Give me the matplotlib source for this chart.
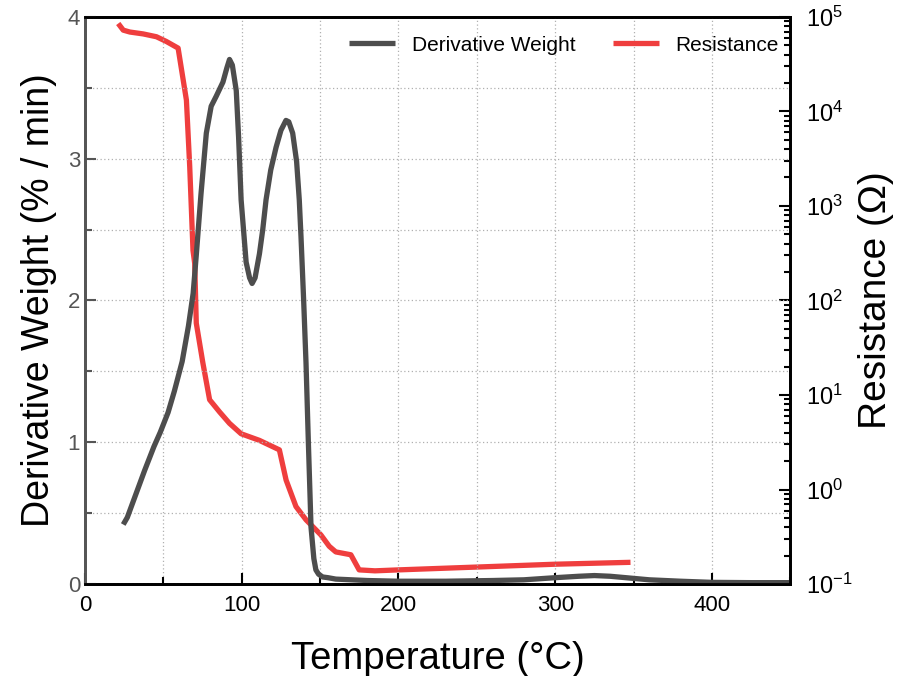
import numpy as np
import matplotlib
matplotlib.use("Agg")
import matplotlib.pyplot as plt
from matplotlib.ticker import MultipleLocator, LogLocator, NullFormatter

plt.rcParams["font.family"] = ["Liberation Sans", "DejaVu Sans"]
plt.rcParams["mathtext.fontset"] = "custom"
plt.rcParams["mathtext.rm"] = "Liberation Sans"

# Derivative weight (% / min) vs temperature (°C)
temp_dw = [24.4, 27, 32, 38, 44, 48, 53, 57, 62, 66, 69, 71, 74, 77.4, 80.5, 83.7,
           88, 90.5, 92.2, 94, 96.5, 98, 99.6, 102.8, 105, 106.6, 108.5, 111.3,
           113.4, 115.5, 118.5, 121.9, 125, 128.2, 130, 132.5, 135, 136.7, 137.8,
           139.5, 141, 142.5, 144.2, 146, 147.3, 149, 151.6, 155, 160, 170, 180,
           200, 230, 260, 280, 300, 315, 325, 335, 345, 360, 380, 400, 425, 450]
deriv_weight = [0.42, 0.47, 0.62, 0.80, 0.97, 1.07, 1.21, 1.36, 1.57, 1.82, 2.05,
                2.32, 2.75, 3.18, 3.37, 3.44, 3.54, 3.64, 3.70, 3.66, 3.48, 3.15,
                2.71, 2.27, 2.16, 2.12, 2.16, 2.33, 2.50, 2.71, 2.92, 3.08, 3.20,
                3.27, 3.26, 3.18, 2.98, 2.71, 2.45, 2.00, 1.56, 1.00, 0.40, 0.18,
                0.10, 0.07, 0.05, 0.045, 0.035, 0.03, 0.025, 0.02, 0.02, 0.025,
                0.03, 0.045, 0.055, 0.06, 0.055, 0.045, 0.03, 0.02, 0.012, 0.01,
                0.01]

# Resistance (ohm) vs temperature (°C), log axis
temp_res = [21.2, 24.4, 28.6, 37.1, 45.6, 51.9, 59.4, 64.7, 66.8, 68.9, 70, 71,
            75.2, 79.5, 85.9, 92.2, 99.6, 111.3, 124, 128.3, 134.6, 141, 150.5,
            155.8, 160, 169.6, 174.9, 185, 200, 250, 300, 348]
log_res = [4.93, 4.86, 4.84, 4.82, 4.79, 4.74, 4.67, 4.12, 3.42, 2.53, 2.39,
           1.76, 1.34, 0.95, 0.82, 0.70, 0.59, 0.52, 0.42, 0.10, -0.18, -0.32,
           -0.48, -0.60, -0.66, -0.69, -0.85, -0.86, -0.85, -0.82, -0.79, -0.77]
resistance = [10 ** v for v in log_res]

GRAY = "#4d4d4d"
RED = "#ef3e3e"

fig = plt.figure(figsize=(9.09, 6.76), dpi=100)
ax = fig.add_axes([0.0935, 0.136, 0.776, 0.839])
ax2 = ax.twinx()

l1, = ax.plot(temp_dw, deriv_weight, color=GRAY, lw=3.8, label="Derivative Weight",
              solid_joinstyle="round", solid_capstyle="butt")
l2, = ax2.plot(temp_res, resistance, color=RED, lw=3.8, label="Resistance",
               solid_joinstyle="round", solid_capstyle="butt")
ax.set_zorder(ax2.get_zorder() + 1)
ax.patch.set_visible(False)

ax.set_xlim(0, 450)
ax.set_ylim(0, 4)
ax2.set_ylim(0.1, 1e5)
ax2.set_yscale("log")

ax.xaxis.set_major_locator(MultipleLocator(100))
ax.xaxis.set_minor_locator(MultipleLocator(50))
ax.yaxis.set_major_locator(MultipleLocator(1))
ax.yaxis.set_minor_locator(MultipleLocator(0.5))
ax2.yaxis.set_major_locator(LogLocator(base=10, numticks=10))
ax2.yaxis.set_minor_locator(LogLocator(base=10, subs=np.arange(2, 10), numticks=10))
ax2.yaxis.set_minor_formatter(NullFormatter())

ax.grid(True, which="both", ls=(0, (1, 2)), color="#b0b0b0", lw=0.9)

ax.tick_params(axis="x", which="both", direction="in", color="black",
               labelsize=16, labelcolor="black", width=1.5, pad=8)
ax.tick_params(axis="x", which="major", length=8)
ax.tick_params(axis="x", which="minor", length=5)
ax.tick_params(axis="y", which="both", direction="in", color="#555555",
               labelsize=16, labelcolor="#555555", width=1.5)
ax.tick_params(axis="y", which="major", length=8)
ax.tick_params(axis="y", which="minor", length=5)
ax2.tick_params(axis="y", which="both", direction="in", color="black",
                labelsize=17, labelcolor="black", width=1.5, pad=11)
ax2.tick_params(axis="y", which="major", length=8)
ax2.tick_params(axis="y", which="minor", length=4)

for a in (ax, ax2):
    for s in a.spines.values():
        s.set_linewidth(2)
        s.set_color("black")
ax.spines["left"].set_color("#555555")
ax2.spines["left"].set_color("#555555")

ax.set_xlabel("Temperature (°C)", fontsize=27.5, labelpad=18)
ax.set_ylabel("Derivative Weight (% / min)", fontsize=27, labelpad=8)
ax2.set_ylabel("Resistance (Ω)", fontsize=28, labelpad=4)

ax.legend(handles=[l1, l2], loc="upper right", ncol=2, frameon=False,
          fontsize=15, handlelength=2.2, columnspacing=1.8,
          bbox_to_anchor=(1.01, 1.0))

fig.savefig("out.png", dpi=100)
